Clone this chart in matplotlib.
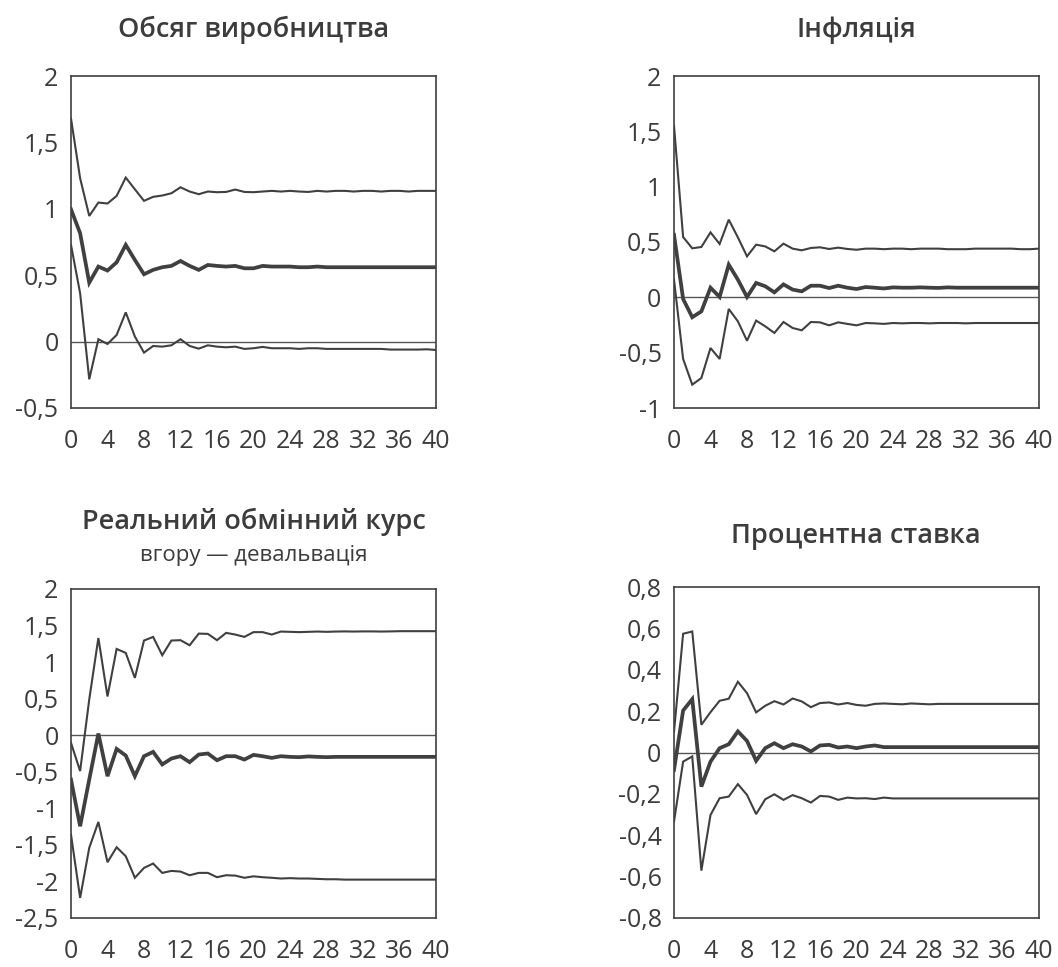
import numpy as np
import matplotlib
matplotlib.use("Agg")
import matplotlib.pyplot as plt
from matplotlib.ticker import FuncFormatter

plt.rcParams['font.family'] = ['Open Sans', 'DejaVu Sans']

# horizons 0..40
periods = list(range(41))

# Обсяг виробництва
output_hi = [1.68, 1.23, 0.946, 1.047, 1.04, 1.097, 1.235, 1.147, 1.06, 1.09,
             1.10, 1.117, 1.162, 1.13, 1.11, 1.13, 1.125, 1.127, 1.145, 1.127,
             1.125, 1.13, 1.135, 1.13, 1.135, 1.13, 1.127, 1.135, 1.13, 1.135,
             1.135, 1.13, 1.135, 1.135, 1.13, 1.135, 1.135, 1.13, 1.135, 1.135, 1.135]
output_mid = [0.996, 0.816, 0.444, 0.565, 0.535, 0.597, 0.728, 0.615, 0.507, 0.54,
              0.56, 0.57, 0.607, 0.57, 0.54, 0.577, 0.57, 0.565, 0.57, 0.552,
              0.552, 0.57, 0.565, 0.565, 0.565, 0.56, 0.56, 0.565, 0.56, 0.56,
              0.56, 0.56, 0.56, 0.56, 0.56, 0.56, 0.56, 0.56, 0.56, 0.56, 0.56]
output_lo = [0.728, 0.364, -0.284, 0.018, -0.018, 0.05, 0.22, 0.038, -0.083, -0.033,
             -0.038, -0.028, 0.018, -0.033, -0.053, -0.028, -0.038, -0.043, -0.038, -0.055,
             -0.05, -0.04, -0.05, -0.05, -0.05, -0.055, -0.05, -0.05, -0.055, -0.055,
             -0.055, -0.055, -0.055, -0.055, -0.055, -0.06, -0.06, -0.06, -0.06, -0.058, -0.063]

# Інфляція
infl_hi = [1.55, 0.545, 0.443, 0.455, 0.587, 0.482, 0.702, 0.542, 0.37, 0.476,
           0.46, 0.416, 0.485, 0.44, 0.425, 0.446, 0.452, 0.437, 0.449, 0.437,
           0.43, 0.44, 0.44, 0.435, 0.44, 0.44, 0.435, 0.44, 0.44, 0.44,
           0.435, 0.435, 0.435, 0.44, 0.44, 0.44, 0.44, 0.44, 0.435, 0.435, 0.44]
infl_mid = [0.565, -0.015, -0.18, -0.127, 0.087, 0.003, 0.295, 0.16, 0.003, 0.13,
            0.1, 0.045, 0.117, 0.07, 0.054, 0.105, 0.105, 0.084, 0.105, 0.087,
            0.075, 0.093, 0.087, 0.08, 0.09, 0.087, 0.087, 0.09, 0.087, 0.085,
            0.09, 0.087, 0.087, 0.087, 0.087, 0.087, 0.087, 0.087, 0.087, 0.087, 0.087]
infl_lo = [0.16, -0.557, -0.789, -0.729, -0.458, -0.557, -0.105, -0.217, -0.392, -0.21,
           -0.262, -0.322, -0.223, -0.277, -0.298, -0.223, -0.226, -0.253, -0.226, -0.24,
           -0.253, -0.232, -0.235, -0.24, -0.232, -0.235, -0.232, -0.232, -0.235, -0.232,
           -0.232, -0.232, -0.235, -0.232, -0.232, -0.232, -0.232, -0.232, -0.232, -0.232, -0.232]

# Реальний обмінний курс
rer_hi = [-0.105, -0.49, 0.49, 1.33, 0.53, 1.18, 1.126, 0.784, 1.295, 1.345,
          1.094, 1.295, 1.30, 1.23, 1.39, 1.386, 1.30, 1.40, 1.377, 1.345,
          1.41, 1.41, 1.377, 1.418, 1.414, 1.41, 1.414, 1.418, 1.414, 1.418,
          1.42, 1.418, 1.42, 1.42, 1.418, 1.42, 1.423, 1.423, 1.423, 1.423, 1.423]
rer_mid = [-0.606, -1.245, -0.606, 0.023, -0.56, -0.187, -0.278, -0.56, -0.287, -0.228,
           -0.40, -0.319, -0.287, -0.369, -0.264, -0.25, -0.342, -0.287, -0.287, -0.333,
           -0.269, -0.287, -0.31, -0.287, -0.296, -0.3, -0.29, -0.296, -0.3, -0.296,
           -0.296, -0.296, -0.296, -0.296, -0.296, -0.296, -0.296, -0.296, -0.296, -0.296, -0.296]
rer_lo = [-1.359, -2.225, -1.54, -1.186, -1.737, -1.532, -1.655, -1.95, -1.815, -1.755,
          -1.883, -1.856, -1.865, -1.915, -1.883, -1.883, -1.942, -1.915, -1.92, -1.95,
          -1.93, -1.942, -1.95, -1.96, -1.955, -1.96, -1.96, -1.965, -1.97, -1.97,
          -1.975, -1.975, -1.975, -1.975, -1.975, -1.975, -1.975, -1.975, -1.975, -1.975, -1.975]

# Процентна ставка
rate_hi = [0.1, 0.574, 0.585, 0.134, 0.195, 0.25, 0.26, 0.342, 0.287, 0.194,
           0.226, 0.248, 0.232, 0.261, 0.247, 0.219, 0.239, 0.242, 0.232, 0.239,
           0.23, 0.226, 0.235, 0.237, 0.235, 0.233, 0.237, 0.235, 0.233, 0.235,
           0.235, 0.235, 0.235, 0.235, 0.235, 0.235, 0.235, 0.235, 0.235, 0.235, 0.235]
rate_mid = [-0.084, 0.203, 0.258, -0.165, -0.044, 0.021, 0.04, 0.102, 0.056, -0.04,
            0.021, 0.045, 0.021, 0.04, 0.029, 0.005, 0.034, 0.037, 0.024, 0.029,
            0.021, 0.029, 0.034, 0.026, 0.026, 0.026, 0.026, 0.026, 0.026, 0.026,
            0.026, 0.026, 0.026, 0.026, 0.026, 0.026, 0.026, 0.026, 0.026, 0.026, 0.026]
rate_lo = [-0.334, -0.044, -0.019, -0.571, -0.302, -0.221, -0.213, -0.153, -0.205, -0.298,
           -0.226, -0.202, -0.229, -0.206, -0.221, -0.242, -0.21, -0.213, -0.229, -0.218,
           -0.222, -0.221, -0.225, -0.218, -0.222, -0.222, -0.222, -0.222, -0.222, -0.222,
           -0.222, -0.222, -0.222, -0.222, -0.222, -0.222, -0.222, -0.222, -0.222, -0.222, -0.222]

titles = ["Обсяг виробництва", "Інфляція", "Реальний обмінний курс", "Процентна ставка"]
subtitle = "вгору — девальвація"

dark = "#404040"
text_col = "#3c3c3c"

W, H = 1058, 967
fig = plt.figure(figsize=(W / 100, H / 100), dpi=100)


def px_axes(left, top, right, bottom):
    return fig.add_axes([left / W, 1 - bottom / H, (right - left) / W, (bottom - top) / H])


def comma(v, pos):
    s = ("%g" % round(v, 2)).replace(".", ",")
    return "0" if s == "-0" else s


def draw(ax, hi, mid, lo, ylim, yticks):
    ax.plot(periods, hi, color=dark, lw=1.5, solid_joinstyle="miter")
    ax.plot(periods, lo, color=dark, lw=1.5, solid_joinstyle="miter")
    ax.plot(periods, mid, color=dark, lw=2.7, solid_joinstyle="miter")
    ax.axhline(0, color="#555555", lw=1.0, zorder=1)
    ax.set_xlim(0, 40)
    ax.set_ylim(*ylim)
    ax.set_xticks(range(0, 41, 4))
    ax.set_yticks(yticks)
    ax.yaxis.set_major_formatter(FuncFormatter(comma))
    ax.tick_params(length=0, labelsize=18, colors=text_col)
    ax.tick_params(axis="x", pad=15)
    ax.tick_params(axis="y", pad=9)
    for sp in ax.spines.values():
        sp.set_color(dark)
        sp.set_linewidth(1.2)


ax1 = px_axes(71, 76, 436, 408)
draw(ax1, output_hi, output_mid, output_lo, (-0.5, 2), np.arange(-0.5, 2.01, 0.5))
ax2 = px_axes(674, 76, 1039, 408)
draw(ax2, infl_hi, infl_mid, infl_lo, (-1, 2), np.arange(-1, 2.01, 0.5))
ax3 = px_axes(71, 589, 436, 918)
draw(ax3, rer_hi, rer_mid, rer_lo, (-2.5, 2), np.arange(-2.5, 2.01, 0.5))
ax4 = px_axes(674, 587, 1039, 918)
draw(ax4, rate_hi, rate_mid, rate_lo, (-0.8, 0.8), np.arange(-0.8, 0.81, 0.2))

tkw = dict(ha="center", va="center", fontsize=19.5, fontweight="semibold", color=text_col)
fig.text(253.5 / W, 1 - 30 / H, titles[0], **tkw)
fig.text(856 / W, 1 - 30 / H, titles[1], **tkw)
fig.text(253.5 / W, 1 - 522 / H, titles[2], **tkw)
fig.text(253.5 / W, 1 - 556 / H, subtitle, ha="center", va="center", fontsize=16, color=text_col)
fig.text(856 / W, 1 - 536 / H, titles[3], **tkw)

fig.savefig("out.png", dpi=100)
